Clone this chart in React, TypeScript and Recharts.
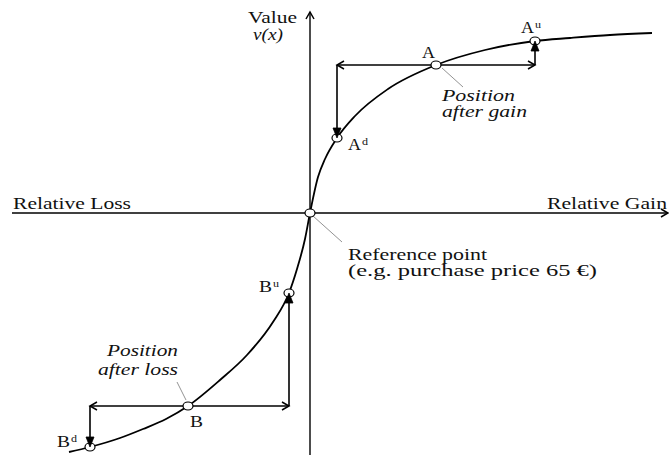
import React from 'react';
import { ComposedChart, Line, XAxis, YAxis, ReferenceLine, ReferenceDot } from 'recharts';

// Value function curve (relative gain/loss x  ->  value v(x))
const curveX = [-241, -220, -190, -167, -144, -122, -90, -63, -37, -21, -13, -5, 0, 8, 15, 27, 45, 78, 126, 175, 225, 260, 300, 342];
const curveV = [-239, -234, -225, -216, -206, -193, -167, -142, -109, -80, -56, -26, 0, 36, 54, 75, 97, 124, 148, 163, 172, 175, 178, 180];

// Marked positions on the curve
const markerNames = ['Bd', 'B', 'Bu', 'Ref', 'Ad', 'A', 'Au'];
const markerX = [-220, -122, -21, 0, 27, 126, 225];
const markerV = [-234, -193, -80, 0, 75, 148, 172];

const curveData = curveX.map((x, i) => ({ x, v: curveV[i] }));
const pt = (name: string) => {
  const i = markerNames.indexOf(name);
  return { x: markerX[i], y: markerV[i] };
};

const FONT = '"Liberation Serif", "Times New Roman", serif';
const INK = '#111';

const txt = (s: string, len: number, size = 16.5, italic = false) => (p: any) => (
  <text
    x={p.cx}
    y={p.cy}
    fontFamily={FONT}
    fontSize={size}
    fontStyle={italic ? 'italic' : 'normal'}
    textLength={len}
    lengthAdjust="spacingAndGlyphs"
    fill={INK}
  >
    {s}
  </text>
);

const supTxt = (base: string, sup: string, supDy: number) => (p: any) => (
  <g>
    <text x={p.cx} y={p.cy} fontFamily={FONT} fontSize={16} textLength={13} lengthAdjust="spacingAndGlyphs" fill={INK}>
      {base}
    </text>
    <text x={p.cx + 14} y={p.cy + supDy} fontFamily={FONT} fontSize={10} textLength={6} lengthAdjust="spacingAndGlyphs" fill={INK}>
      {sup}
    </text>
  </g>
);

const head = (dir: 'up' | 'down' | 'left' | 'right', filled: boolean) => (p: any) => {
  const { cx, cy } = p;
  const L = filled ? 10 : 7;
  const W = 4;
  let pts: number[][];
  if (dir === 'down') pts = [[cx - W, cy - L], [cx, cy], [cx + W, cy - L]];
  else if (dir === 'up') pts = [[cx - W, cy + L], [cx, cy], [cx + W, cy + L]];
  else if (dir === 'left') pts = [[cx + L, cy - W], [cx, cy], [cx + L, cy + W]];
  else pts = [[cx - L, cy - W], [cx, cy], [cx - L, cy + W]];
  const s = pts.map((q) => q.join(',')).join(' ');
  return filled ? (
    <polygon points={s} fill="#000" stroke="#000" strokeWidth={0.8} />
  ) : (
    <polyline points={s} fill="none" stroke="#000" strokeWidth={1.5} />
  );
};

const ring = (p: any) => (
  <ellipse cx={p.cx} cy={p.cy} rx={5} ry={4} fill="#fff" stroke="#000" strokeWidth={1.2} />
);

const seg = (a: { x: number; y: number }, b: { x: number; y: number }, w = 1.6, color = '#000') => (
  <ReferenceLine segment={[a, b]} stroke={color} strokeWidth={w} ifOverflow="visible" />
);

export default function App() {
  const A = pt('A');
  const Au = pt('Au');
  const Ad = pt('Ad');
  const B = pt('B');
  const Bu = pt('Bu');
  const Bd = pt('Bd');
  const R = pt('Ref');
  return (
    <div style={{ position: 'absolute', left: 0, top: 0, width: 669, height: 455, background: '#fff' }}>
      <ComposedChart width={669} height={455} data={curveData} margin={{ top: 0, right: 0, bottom: 0, left: 0 }}>
        <XAxis dataKey="x" type="number" domain={[-310, 359]} allowDataOverflow hide />
        <YAxis type="number" domain={[-242, 213]} allowDataOverflow hide />

        {/* axes */}
        {seg({ x: -298, y: 0 }, { x: 358, y: 0 }, 1.4)}
        {seg({ x: 0, y: -242 }, { x: 0, y: 201 }, 1.4)}
        <ReferenceDot x={0} y={201} shape={head('up', false)} ifOverflow="visible" />
        <ReferenceDot x={358} y={0} shape={head('right', false)} ifOverflow="visible" />

        {/* leader lines */}
        {seg({ x: 3, y: -3 }, { x: 32, y: -29 }, 0.8, '#777')}
        {seg({ x: 132, y: 145 }, { x: 153, y: 126 }, 0.8, '#777')}
        {seg({ x: -124, y: -187 }, { x: -133, y: -169 }, 0.8, '#777')}

        <Line dataKey="v" type="monotone" dot={false} activeDot={false} legendType="none" stroke="#000" strokeWidth={1.8} isAnimationActive={false} />

        {/* gain scenario arrows */}
        {seg({ x: Ad.x, y: A.y }, { x: Au.x, y: A.y })}
        {seg({ x: Ad.x, y: A.y }, { x: Ad.x, y: Ad.y })}
        {seg({ x: Au.x, y: A.y }, { x: Au.x, y: Au.y })}
        {/* loss scenario arrows */}
        {seg({ x: Bd.x, y: B.y }, { x: Bu.x, y: B.y })}
        {seg({ x: Bd.x, y: B.y }, { x: Bd.x, y: Bd.y })}
        {seg({ x: Bu.x, y: B.y }, { x: Bu.x, y: Bu.y })}

        {[A, Au, Ad, B, Bu, Bd, R].map((p, i) => (
          <ReferenceDot key={'c' + i} x={p.x} y={p.y} shape={ring} ifOverflow="visible" />
        ))}

        <ReferenceDot x={Ad.x} y={A.y} shape={head('left', false)} ifOverflow="visible" />
        <ReferenceDot x={Au.x} y={A.y} shape={head('right', false)} ifOverflow="visible" />
        <ReferenceDot x={Ad.x} y={Ad.y} shape={head('down', true)} ifOverflow="visible" />
        <ReferenceDot x={Au.x} y={Au.y} shape={head('up', true)} ifOverflow="visible" />
        <ReferenceDot x={Bd.x} y={B.y} shape={head('left', false)} ifOverflow="visible" />
        <ReferenceDot x={Bu.x} y={B.y} shape={head('right', false)} ifOverflow="visible" />
        <ReferenceDot x={Bd.x} y={Bd.y} shape={head('down', true)} ifOverflow="visible" />
        <ReferenceDot x={Bu.x} y={Bu.y} shape={head('up', true)} ifOverflow="visible" />

        {/* texts */}
        <ReferenceDot x={-297} y={4.5} shape={txt('Relative Loss', 118)} ifOverflow="visible" />
        <ReferenceDot x={237} y={4.5} shape={txt('Relative Gain', 120)} ifOverflow="visible" />
        <ReferenceDot x={-62} y={190} shape={txt('Value', 49)} ifOverflow="visible" />
        <ReferenceDot x={-57} y={173} shape={txt('v(x)', 30, 16, true)} ifOverflow="visible" />
        <ReferenceDot x={112} y={155} shape={txt('A', 13, 16)} ifOverflow="visible" />
        <ReferenceDot x={211} y={180} shape={supTxt('A', 'u', -5)} ifOverflow="visible" />
        <ReferenceDot x={38} y={63} shape={supTxt('A', 'd', -5)} ifOverflow="visible" />
        <ReferenceDot x={132} y={112} shape={txt('Position', 73, 16, true)} ifOverflow="visible" />
        <ReferenceDot x={132} y={96} shape={txt('after gain', 85, 16, true)} ifOverflow="visible" />
        <ReferenceDot x={-120} y={-214} shape={txt('B', 13, 16)} ifOverflow="visible" />
        <ReferenceDot x={-51} y={-79} shape={supTxt('B', 'u', -5)} ifOverflow="visible" />
        <ReferenceDot x={-253} y={-234} shape={supTxt('B', 'd', -5)} ifOverflow="visible" />
        <ReferenceDot x={-203} y={-143} shape={txt('Position', 71, 16, true)} ifOverflow="visible" />
        <ReferenceDot x={-212} y={-162} shape={txt('after loss', 80, 16, true)} ifOverflow="visible" />
        <ReferenceDot x={38} y={-47} shape={txt('Reference point', 139, 16)} ifOverflow="visible" />
        <ReferenceDot x={38} y={-63} shape={txt('(e.g. purchase price 65 €)', 249, 16)} ifOverflow="visible" />
      </ComposedChart>
    </div>
  );
}
